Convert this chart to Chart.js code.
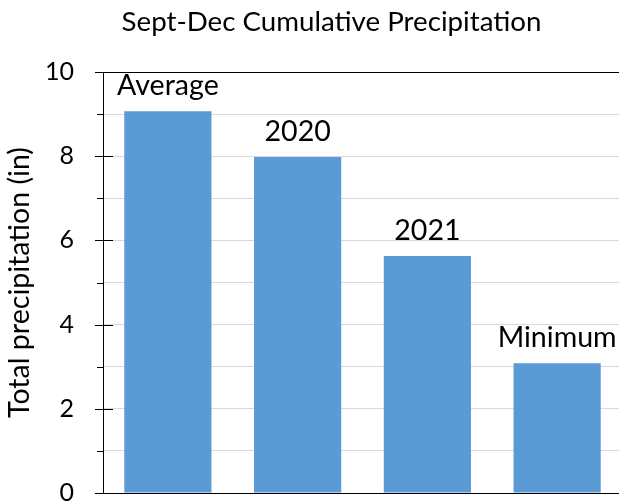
<!DOCTYPE html>
<html><head><meta charset="utf-8">
<script src="https://cdn.jsdelivr.net/npm/chart.js@4.4.1/dist/chart.umd.min.js"></script>
<style>html,body{margin:0;padding:0;background:#fff;overflow:hidden;width:619px;height:502px}
canvas{display:block}</style></head>
<body><canvas id="c" width="663" height="502" style="width:663px;height:502px"></canvas>
<script>
const categories = ['Average', '2020', '2021', 'Minimum'];
const precipitation = [9.07, 7.98, 5.63, 3.08];
const yTickLabels = ['0', '2', '4', '6', '8', '10'];
const chartTitle = 'Sept-Dec Cumulative Precipitation';
const yAxisTitle = 'Total precipitation (in)';

const FAMILY = 'Lato, "Open Sans", sans-serif';
const PLOT_LEFT = 103, PLOT_TOP = 72, PLOT_BOTTOM = 493, PLOT_RIGHT = 622, W = 663, H = 502;

const mctx = document.createElement('canvas').getContext('2d');
function fit(text, w) { mctx.font = '100px ' + FAMILY; return 100 * w / mctx.measureText(text).width; }
const titleSize = fit(chartTitle, 420);
const axisTitleSize = fit(yAxisTitle, 271);
const tickSize = fit('10', 29);
const labelSize = fit('Minimum', 119);

const titlePadTop = 32 - 0.35 * titleSize - 0.6 * titleSize;
const titlePadBottom = PLOT_TOP - titlePadTop - 1.2 * titleSize;
const axisTitlePadTop = 30 - 0.35 * axisTitleSize - 0.6 * axisTitleSize;

const tickMarks = {
  id: 'tickMarks',
  afterDraw(chart) {
    const y = chart.scales.y, ctx = chart.ctx, left = chart.chartArea.left;
    ctx.save();
    ctx.strokeStyle = '#000'; ctx.lineWidth = 1;
    y.ticks.forEach(t => {
      const py = Math.round(y.getPixelForValue(t.value)) + 0.5;
      const major = yTickLabels.includes(String(t.value));
      ctx.beginPath();
      ctx.moveTo(left - (major ? 8 : 6), py);
      ctx.lineTo(major ? left + 10 : left, py);
      ctx.stroke();
    });
    ctx.restore();
  }
};

const barLabels = {
  id: 'barLabels',
  afterDatasetsDraw(chart) {
    const ctx = chart.ctx, meta = chart.getDatasetMeta(0);
    ctx.save();
    ctx.font = labelSize + 'px ' + FAMILY;
    ctx.fillStyle = '#000'; ctx.textAlign = 'center'; ctx.textBaseline = 'alphabetic';
    meta.data.forEach((bar, i) => ctx.fillText(categories[i], bar.x, bar.y - 16));
    ctx.restore();
  }
};

new Chart(document.getElementById('c'), {
  type: 'bar',
  data: {
    labels: categories,
    datasets: [{ data: precipitation, backgroundColor: '#5b9bd5', borderWidth: 0,
      categoryPercentage: 1, barPercentage: 0.672 }]
  },
  options: {
    responsive: false, animation: false, devicePixelRatio: 1,
    layout: { padding: 0 },
    plugins: {
      legend: { display: false }, tooltip: { enabled: false },
      title: { display: true, text: chartTitle, color: '#000',
        font: { family: FAMILY, size: titleSize, weight: 'normal', lineHeight: 1.2 },
        padding: { top: titlePadTop, bottom: titlePadBottom } }
    },
    scales: {
      x: {
        ticks: { display: false }, grid: { display: false, drawTicks: false },
        border: { display: true, color: '#000', width: 1 },
        afterFit: s => { s.height = H - PLOT_BOTTOM; s.paddingLeft = 0; s.paddingRight = 0; }
      },
      y: {
        min: 0, max: 10,
        ticks: { stepSize: 1, autoSkip: false, padding: 29, color: '#000',
          font: { family: FAMILY, size: tickSize },
          callback: v => yTickLabels.includes(String(v)) ? String(v) : '' },
        grid: { drawTicks: false, lineWidth: 1,
          color: c => (c.tick && (c.tick.value === 10 || c.tick.value === 0)) ? '#000' : '#d9d9d9' },
        border: { display: true, color: '#000', width: 1 },
        title: { display: true, text: yAxisTitle, color: '#000',
          font: { family: FAMILY, size: axisTitleSize, lineHeight: 1.2 },
          padding: { top: axisTitlePadTop, bottom: 0 } },
        afterFit: s => { s.width = PLOT_LEFT; s.paddingTop = 0; s.paddingBottom = 0; }
      },
      yRight: {
        type: 'linear', position: 'right', display: true,
        ticks: { display: false }, grid: { display: false, drawTicks: false },
        border: { display: false },
        afterFit: s => { s.width = W - PLOT_RIGHT; s.paddingTop = 0; s.paddingBottom = 0; }
      }
    }
  },
  plugins: [tickMarks, barLabels]
});
</script></body></html>
